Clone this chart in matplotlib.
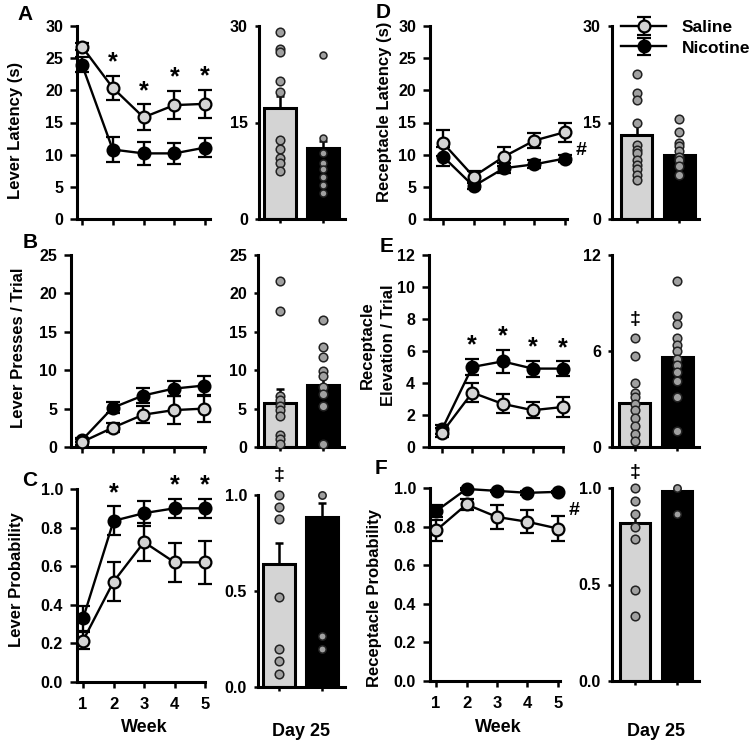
import numpy as np
import matplotlib
matplotlib.use('Agg')
import matplotlib.pyplot as plt

# Datos por semana (media y error estándar)
semanas = [1, 2, 3, 4, 5]
grupos = ['Saline', 'Nicotine']

# A: latencia de palanca
lat_pal_sal = [26.8, 20.4, 15.8, 17.7, 17.9]
lat_pal_sal_err = [0.6, 1.9, 2.0, 2.2, 2.2]
lat_pal_nic = [24.0, 10.8, 10.2, 10.2, 11.1]
lat_pal_nic_err = [1.2, 1.9, 1.8, 1.6, 1.5]
lat_pal_barras = [17.2, 11.1]
lat_pal_barras_err = [1.9, 1.0]
lat_pal_puntos_sal = [29.1, 26.4, 26.0, 21.5, 19.8, 12.3, 10.9, 9.5, 8.7, 7.4]
lat_pal_puntos_nic = [25.5, 12.6, 10.2, 8.7, 7.7, 6.6, 5.3, 4.1]

# B: presiones de palanca por ensayo
pres_sal = [0.65, 2.5, 4.2, 4.8, 5.0]
pres_sal_err = [0.4, 0.6, 1.1, 1.8, 1.7]
pres_nic = [0.9, 5.1, 6.7, 7.6, 8.0]
pres_nic_err = [0.3, 0.7, 1.0, 1.0, 1.2]
pres_barras = [5.7, 8.1]
pres_barras_err = [1.9, 1.3]
pres_puntos_sal = [21.6, 17.7, 6.7, 6.1, 5.3, 4.8, 4.0, 1.5, 1.0, 0.4]
pres_puntos_nic = [16.5, 13.0, 11.7, 9.9, 9.2, 7.8, 6.9, 5.3, 0.4]

# C: probabilidad de palanca
prob_pal_sal = [0.215, 0.52, 0.725, 0.62, 0.62]
prob_pal_sal_err = [0.045, 0.1, 0.1, 0.1, 0.11]
prob_pal_nic = [0.33, 0.835, 0.875, 0.9, 0.9]
prob_pal_nic_err = [0.065, 0.075, 0.065, 0.05, 0.05]
prob_pal_barras = [0.64, 0.885]
prob_pal_barras_err = [0.11, 0.075]
prob_pal_puntos_sal = [1.0, 0.935, 0.875, 0.47, 0.2, 0.135, 0.07]
prob_pal_puntos_nic = [1.0, 0.265, 0.2]

# D: latencia al receptáculo
lat_rec_sal = [11.8, 6.6, 9.7, 12.2, 13.5]
lat_rec_sal_err = [2.0, 0.9, 1.5, 1.2, 1.5]
lat_rec_nic = [9.7, 5.1, 7.9, 8.5, 9.4]
lat_rec_nic_err = [1.5, 0.5, 0.8, 0.6, 0.5]
lat_rec_barras = [13.1, 9.9]
lat_rec_barras_err = [1.6, 0.7]
lat_rec_puntos_sal = [22.6, 19.6, 18.5, 15.0, 11.5, 10.8, 10.2, 9.2, 8.4, 7.7, 6.9, 6.1]
lat_rec_puntos_nic = [15.5, 13.5, 11.8, 11.3, 10.5, 9.7, 9.2, 8.2, 6.9]

# E: elevaciones del receptáculo por ensayo
elev_sal = [0.9, 3.4, 2.7, 2.3, 2.5]
elev_sal_err = [0.3, 0.6, 0.6, 0.5, 0.65]
elev_nic = [1.1, 5.0, 5.35, 4.9, 4.9]
elev_nic_err = [0.3, 0.5, 0.7, 0.5, 0.45]
elev_barras = [2.75, 5.65]
elev_barras_err = [0.55, 0.6]
elev_puntos_sal = [6.8, 5.7, 4.0, 3.4, 3.1, 2.7, 2.3, 1.8, 1.3, 0.8, 0.4]
elev_puntos_nic = [10.4, 8.2, 7.7, 6.8, 6.4, 6.0, 5.5, 5.1, 4.7, 4.1, 3.1, 1.0]

# F: probabilidad de receptáculo
prob_rec_sal = [0.78, 0.915, 0.85, 0.825, 0.79]
prob_rec_sal_err = [0.055, 0.03, 0.06, 0.06, 0.065]
prob_rec_nic = [0.88, 0.995, 0.985, 0.975, 0.98]
prob_rec_nic_err = [0.03, 0.005, 0.005, 0.01, 0.005]
prob_rec_barras = [0.82, 0.985]
prob_rec_barras_err = [0.05, 0.015]
prob_rec_puntos_sal = [1.0, 0.935, 0.865, 0.80, 0.735, 0.47, 0.335]
prob_rec_puntos_nic = [1.0, 0.865]

plt.rcParams['font.family'] = ['Liberation Sans', 'DejaVu Sans']
plt.rcParams['font.weight'] = 'bold'
plt.rcParams['font.size'] = 11

W, H = 754, 749
fig = plt.figure(figsize=(W / 100, H / 100), dpi=100)

GRIS_CLARO = '#d4d4d4'
GRIS_PUNTO = '#a0a0a0'


# Convierte píxeles (izq, arriba, der, abajo) a coordenadas de figura
def caja(l, t, r, b):
    return [l / W, 1 - b / H, (r - l) / W, (b - t) / H]


def estilo_ejes(ax, largo_y, largo_x, pad_y):
    for lado in ['top', 'right']:
        ax.spines[lado].set_visible(False)
    for lado in ['left', 'bottom']:
        ax.spines[lado].set_linewidth(2.2)
    ax.tick_params(axis='y', length=largo_y, width=1.8, pad=pad_y, labelsize=11.5)
    ax.tick_params(axis='x', length=largo_x, width=1.8, pad=7, labelsize=12)


# Gráfico de líneas por semana
def grafico_semanas(pos, xlim, sal, sal_err, nic, nic_err, ylim, yticks, etiquetas_x):
    ax = fig.add_axes(caja(*pos))
    ln_nic = ax.errorbar(semanas, nic, yerr=nic_err, fmt='-o', color='black', mfc='black',
                         mec='black', ms=8.5, mew=1.6, lw=1.7, elinewidth=1.7,
                         capsize=5, capthick=1.7, zorder=3, clip_on=False)
    ln_sal = ax.errorbar(semanas, sal, yerr=sal_err, fmt='-o', color='black', mfc=GRIS_CLARO,
                         mec='black', ms=8.5, mew=1.6, lw=1.7, elinewidth=1.7,
                         capsize=5, capthick=1.7, zorder=4, clip_on=False)
    ax.set_xlim(*xlim)
    ax.set_ylim(*ylim)
    ax.set_yticks(yticks)
    ax.set_xticks(semanas)
    if not etiquetas_x:
        ax.set_xticklabels([])
    if isinstance(yticks[1], float):
        ax.set_yticklabels(['%.1f' % v for v in yticks])
    estilo_ejes(ax, 5, 4, 5)
    return ax, ln_sal, ln_nic


# Gráfico de barras del día 25 con puntos individuales
def grafico_barras(pos, xlim, medias, errores, puntos_sal, puntos_nic, ylim, yticks,
                   tam_nic=6.2, decimales=False):
    ax = fig.add_axes(caja(*pos))
    ax.bar([0, 1], medias, width=0.73, color=[GRIS_CLARO, 'black'],
           edgecolor='black', linewidth=2.2, zorder=1)
    ax.errorbar([0, 1], medias, yerr=[[0, 0], errores], fmt='none', ecolor='black',
                elinewidth=1.8, capsize=3.2, capthick=1.8, zorder=2)
    ax.plot([0] * len(puntos_sal), puntos_sal, 'o', ms=6.2, mfc=GRIS_PUNTO, mec='#222222',
            mew=1.1, zorder=3, clip_on=False)
    ax.plot([1] * len(puntos_nic), puntos_nic, 'o', ms=tam_nic, mfc=GRIS_PUNTO, mec='#222222',
            mew=1.1, zorder=3, clip_on=False)
    ax.set_xlim(*xlim)
    ax.set_ylim(*ylim)
    ax.set_yticks(yticks)
    if decimales:
        ax.set_yticklabels(['%.1f' % v for v in yticks])
    ax.set_xticks([0, 1])
    ax.set_xticklabels([])
    estilo_ejes(ax, 3, 3, 5)
    return ax


# Asteriscos sobre las barras de error
def asteriscos(ax, semanas_sig, medias, errores):
    for s in semanas_sig:
        i = s - 1
        ax.annotate('*', (s, medias[i] + errores[i]), xytext=(0, 1), textcoords='offset points',
                    ha='center', va='bottom', fontsize=18, fontweight='bold',
                    annotation_clip=False)


def texto(x, y, s, **kw):
    fig.text(x / W, 1 - y / H, s, **kw)


# Panel A
ax, _, _ = grafico_semanas((77, 26, 210, 219), (0.84, 5.16), lat_pal_sal, lat_pal_sal_err,
                           lat_pal_nic, lat_pal_nic_err, (0, 30), range(0, 31, 5), False)
asteriscos(ax, [2, 3, 4, 5], lat_pal_sal, lat_pal_sal_err)
grafico_barras((259, 26, 345, 219), (-0.49, 1.51), lat_pal_barras, lat_pal_barras_err,
               lat_pal_puntos_sal, lat_pal_puntos_nic, (0, 30), [0, 15, 30], tam_nic=5.0)

# Panel B
grafico_semanas((71, 255, 205, 447), (0.64, 5.03), pres_sal, pres_sal_err,
                pres_nic, pres_nic_err, (0, 25), range(0, 26, 5), False)
grafico_barras((258, 255, 344, 447), (-0.51, 1.49), pres_barras, pres_barras_err,
               pres_puntos_sal, pres_puntos_nic, (0, 25), range(0, 26, 5))

# Panel C
ax, _, _ = grafico_semanas((77, 489, 205, 682), (0.80, 5.0), prob_pal_sal, prob_pal_sal_err,
                           prob_pal_nic, prob_pal_nic_err, (0, 1), [0.0, 0.2, 0.4, 0.6, 0.8, 1.0], True)
asteriscos(ax, [2, 4, 5], prob_pal_nic, prob_pal_nic_err)
axb = grafico_barras((258, 495, 345, 687), (-0.49, 1.53), prob_pal_barras, prob_pal_barras_err,
                     prob_pal_puntos_sal, prob_pal_puntos_nic, (0, 1), [0.0, 0.5, 1.0],
                     tam_nic=5.3, decimales=True)
axb.text(0, 1.10, '\u2021', ha='center', va='center', fontsize=14, fontweight='bold')

# Panel D
ax, ln_sal, ln_nic = grafico_semanas((430, 26, 567, 219), (0.57, 5.07), lat_rec_sal, lat_rec_sal_err,
                                     lat_rec_nic, lat_rec_nic_err, (0, 30), range(0, 31, 5), False)
ax.text(5.52, 10.7, '#', ha='center', va='center', fontsize=14, fontweight='bold')
axb = grafico_barras((612, 26, 699, 219), (-0.58, 1.47), lat_rec_barras, lat_rec_barras_err,
                     lat_rec_puntos_sal, lat_rec_puntos_nic, (0, 30), [0, 15, 30])
fig.legend([ln_sal, ln_nic], grupos, loc='upper left', bbox_to_anchor=(621 / W, 1 - 20 / H),
           frameon=False, fontsize=12.5, handlelength=2.6, handletextpad=0.9,
           labelspacing=0.3, borderpad=0, borderaxespad=0)

# Panel E
ax, _, _ = grafico_semanas((429, 255, 563, 447), (0.57, 5.0), elev_sal, elev_sal_err,
                           elev_nic, elev_nic_err, (0, 12), range(0, 13, 2), False)
asteriscos(ax, [2, 3, 4, 5], elev_nic, elev_nic_err)
axb = grafico_barras((612, 255, 699, 447), (-0.54, 1.51), elev_barras, elev_barras_err,
                     elev_puntos_sal, elev_puntos_nic, (0, 12), [0, 6, 12])
axb.text(0, 8.0, '\u2021', ha='center', va='center', fontsize=14, fontweight='bold')

# Panel F
ax, _, _ = grafico_semanas((430, 488, 560, 681), (0.80, 5.07), prob_rec_sal, prob_rec_sal_err,
                           prob_rec_nic, prob_rec_nic_err, (0, 1), [0.0, 0.2, 0.4, 0.6, 0.8, 1.0], True)
ax.text(5.52, 0.886, '#', ha='center', va='center', fontsize=14, fontweight='bold')
axb = grafico_barras((612, 488, 699, 681), (-0.55, 1.52), prob_rec_barras, prob_rec_barras_err,
                     prob_rec_puntos_sal, prob_rec_puntos_nic, (0, 1), [0.0, 0.5, 1.0],
                     tam_nic=5.3, decimales=True)
axb.text(0, 1.08, '\u2021', ha='center', va='center', fontsize=14, fontweight='bold')

# Etiquetas de los ejes y letras de panel
rot = dict(rotation=90, ha='center', va='center', fontsize=12, fontweight='bold')
texto(16, 130, 'Lever Latency (s)', **rot)
texto(19, 348, 'Lever Presses / Trial', **rot)
texto(17, 580, 'Lever Probability', **rot)
texto(384, 112, 'Receptacle Latency (s)', **rot)
texto(378, 345, 'Receptacle\nElevation / Trial', linespacing=1.45, **rot)
texto(375, 598, 'Receptacle Probability', **rot)

for x, y, letra in [(25, 15, 'A'), (30, 243, 'B'), (30, 480, 'C'),
                    (383, 13, 'D'), (387, 247, 'E'), (381, 468, 'F')]:
    texto(x, y, letra, ha='center', va='center', fontsize=15, fontweight='bold')

texto(144, 728, 'Week', ha='center', va='center', fontsize=13, fontweight='bold')
texto(498, 728, 'Week', ha='center', va='center', fontsize=13, fontweight='bold')
texto(301, 732, 'Day 25', ha='center', va='center', fontsize=13, fontweight='bold')
texto(656, 732, 'Day 25', ha='center', va='center', fontsize=13, fontweight='bold')

plt.savefig('out.png', dpi=100)
